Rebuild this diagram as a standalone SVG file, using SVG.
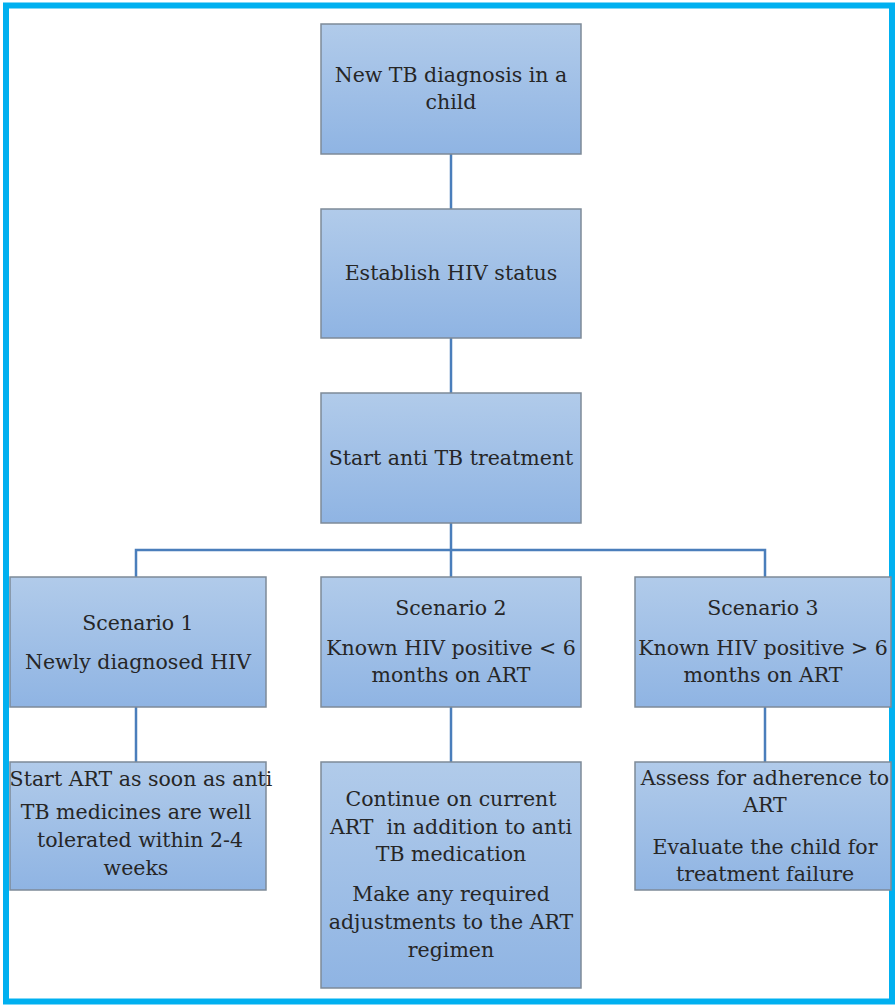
<svg xmlns="http://www.w3.org/2000/svg" width="895" height="1005" viewBox="0 0 895 1005">
  <defs>
    <linearGradient id="boxFill" x1="0" y1="0" x2="0" y2="1">
      <stop offset="0" stop-color="#B1CBEA"/>
      <stop offset="1" stop-color="#8FB4E3"/>
    </linearGradient>
    <style>
      .box { fill: url(#boxFill); stroke: #7E8A98; stroke-width: 1.5; }
      .link { fill: none; stroke: #4A7EBB; stroke-width: 2.5; }
      .lbl { font-family: "DejaVu Serif", "Liberation Serif", serif; font-size: 20.5px; fill: #262626; text-anchor: middle; }
    </style>
  </defs>
  <rect x="0" y="0" width="895" height="1005" fill="#FFFFFF"/>
  <!-- frame -->
  <rect x="6" y="5.5" width="886" height="996" fill="none" stroke="#00B0F0" stroke-width="6"/>

  <!-- connectors -->
  <g id="connectors">
    <line class="link" x1="451" y1="154" x2="451" y2="209"/>
    <line class="link" x1="451" y1="338" x2="451" y2="393"/>
    <line class="link" x1="451" y1="523" x2="451" y2="577"/>
    <polyline class="link" points="136,577 136,550 765,550 765,577"/>
    <line class="link" x1="136" y1="707" x2="136" y2="762"/>
    <line class="link" x1="451" y1="707" x2="451" y2="762"/>
    <line class="link" x1="765" y1="707" x2="765" y2="762"/>
  </g>

  <g id="new-tb">
    <rect class="box" x="321" y="24" width="260" height="130"/>
    <text class="lbl" x="451" y="82">New TB diagnosis in a</text>
    <text class="lbl" x="451" y="109">child</text>
  </g>
  <g id="hiv-status">
    <rect class="box" x="321" y="209" width="260" height="129"/>
    <text class="lbl" x="451" y="280">Establish HIV status</text>
  </g>
  <g id="start-tb">
    <rect class="box" x="321" y="393" width="260" height="130"/>
    <text class="lbl" x="451" y="465">Start anti TB treatment</text>
  </g>

  <g id="scenario-1">
    <rect class="box" x="10" y="577" width="256" height="130"/>
    <text class="lbl" x="138" y="630">Scenario 1</text>
    <text class="lbl" x="138" y="669">Newly diagnosed HIV</text>
  </g>
  <g id="scenario-2">
    <rect class="box" x="321" y="577" width="260" height="130"/>
    <text class="lbl" x="451" y="615">Scenario 2</text>
    <text class="lbl" x="451" y="655">Known HIV positive &lt; 6</text>
    <text class="lbl" x="451" y="682">months on ART</text>
  </g>
  <g id="scenario-3">
    <rect class="box" x="635" y="577" width="256" height="130"/>
    <text class="lbl" x="763" y="615">Scenario 3</text>
    <text class="lbl" x="763" y="655">Known HIV positive &gt; 6</text>
    <text class="lbl" x="763" y="682">months on ART</text>
  </g>

  <g id="action-1">
    <rect class="box" x="10" y="762" width="256" height="128"/>
    <text class="lbl" x="141" y="786">Start ART as soon as anti</text>
    <text class="lbl" x="136" y="819">TB medicines are well</text>
    <text class="lbl" x="140" y="847">tolerated within 2-4</text>
    <text class="lbl" x="136" y="875">weeks</text>
  </g>
  <g id="action-2">
    <rect class="box" x="321" y="762" width="260" height="226"/>
    <text class="lbl" x="451" y="806">Continue on current</text>
    <text class="lbl" x="451" y="834" xml:space="preserve">ART  in addition to anti</text>
    <text class="lbl" x="451" y="861">TB medication</text>
    <text class="lbl" x="451" y="901">Make any required</text>
    <text class="lbl" x="451" y="929">adjustments to the ART</text>
    <text class="lbl" x="451" y="957">regimen</text>
  </g>
  <g id="action-3">
    <rect class="box" x="635" y="762" width="256" height="128"/>
    <text class="lbl" x="765" y="785">Assess for adherence to</text>
    <text class="lbl" x="765" y="812">ART</text>
    <text class="lbl" x="765" y="854">Evaluate the child for</text>
    <text class="lbl" x="765" y="881">treatment failure</text>
  </g>
</svg>
